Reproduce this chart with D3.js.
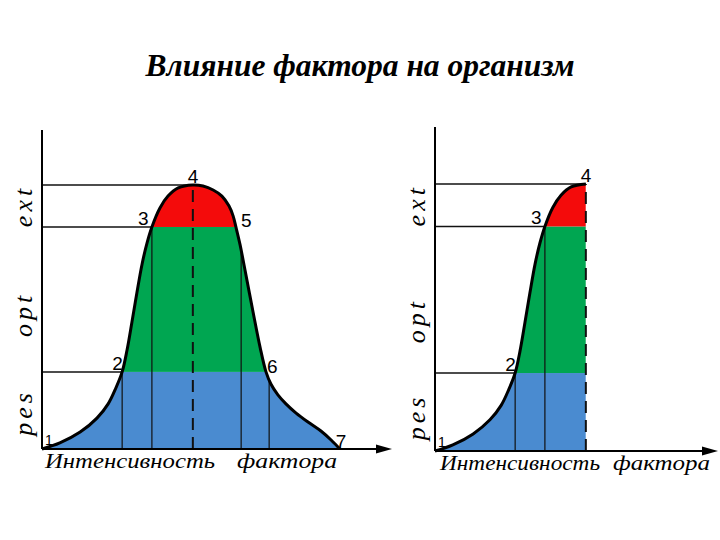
<!DOCTYPE html>
<html>
<head>
<meta charset="utf-8">
<script src="https://cdn.jsdelivr.net/npm/d3@7"></script>
<style>
  body { margin: 0; background: #fff; }
</style>
</head>
<body>
<div id="chart"></div>
<script>
// response curve, abstract units (x: factor intensity 0-100, y: response 0-100)
const curveX = [0, 5.1, 10.9, 15.7, 18.9, 21.1, 22.9, 24.3, 25.7, 27.1, 28.6, 30, 31.4, 33.7, 36, 38.9, 43.1,
  46, 48.9, 51.4, 53.4, 54.6, 55.4, 56.6, 58, 60.3, 62.3, 64, 65.4, 67.4, 69.7, 72.6, 76, 79.7, 82.6, 85.1]
const curveY = [0, 2.3, 6.4, 11.7, 17.1, 23.1, 29.2, 37.5, 48.1, 59.1, 70.1, 78, 84.1, 91.3, 95.8, 98.9, 100,
  99.6, 98.1, 95.8, 92.1, 88.3, 84.1, 77.3, 67.8, 51.9, 38.6, 29.2, 24.6, 20.5, 17.1, 13.6, 10.2, 6.8, 3.4, 0]

// numbered key points on the curve
const pointLabels = ['1', '2', '3', '4', '5', '6', '7']
const pointX = [0, 22.9, 31.4, 43.1, 55.4, 64, 85.1]
const pointY = [0, 29.2, 84.1, 100, 84.1, 29.2, 0]

// zones
const zoneNames = ['pes', 'opt', 'ext']
const zoneFrom = [0, 29.2, 84.1]
const zoneTo = [29.2, 84.1, 100]
const zoneColors = ['#4a8bd0', '#00a651', '#f40b0b']

// thin drop lines under the curve, dashed one at the peak
const dropX = [22.9, 31.4, 56.9, 64.9]
const peakX = 43.1

const title = 'Влияние фактора на организм'
const axisWords = ['Интенсивность', 'фактора']

let svg = d3.select('#chart')
  .append('svg')
  .attr('width', 720)
  .attr('height', 540)

svg.append('text')
  .attr('x', 360)
  .attr('y', 76)
  .attr('text-anchor', 'middle')
  .attr('font-family', 'Liberation Serif')
  .attr('font-style', 'italic')
  .attr('font-weight', 'bold')
  .attr('font-size', 31.5)
  .text(title)

let panels = [
  { id: 'l', left: 42, base: 449, top: 185, axisTop: 130, axisEnd: 392, cut: null,
    nums: 7, zoneShift: [2, 15, 0], words: [[45, 215], [237, 337]], wordY: 468 },
  { id: 'r', left: 435, base: 451, top: 184, axisTop: 127, axisEnd: 718, cut: peakX,
    nums: 4, zoneShift: [5, 21, 0], words: [[440, 600], [613, 710]], wordY: 470 }
]

// label nudges relative to each key point, in px
let numOffsets = [[3, -4], [-10, -2], [-14, -2], [-5, -2], [5, 0], [1, 1], [-4, -1]]

panels.forEach(function(p) {
  let x = d3.scaleLinear().domain([0, 100]).range([p.left, p.left + 350])
  let y = d3.scaleLinear().domain([0, 100]).range([p.base, p.top])

  let pts = curveX.map((v, i) => [v, curveY[i]])
  if (p.cut !== null) pts = pts.filter(d => d[0] <= p.cut)
  let xMax = d3.max(pts, d => d[0])

  let area = d3.area()
    .x(d => x(d[0]))
    .y0(y(0))
    .y1(d => y(d[1]))
    .curve(d3.curveCatmullRom.alpha(0.5))

  let line = d3.line()
    .x(d => x(d[0]))
    .y(d => y(d[1]))
    .curve(d3.curveCatmullRom.alpha(0.5))

  svg.append('clipPath')
    .attr('id', 'clip-' + p.id)
    .append('path')
    .attr('d', area(pts))

  let g = svg.append('g')

  // coloured zones, cut to the area under the curve
  g.append('g')
    .attr('clip-path', 'url(#clip-' + p.id + ')')
    .selectAll('rect')
    .data(zoneNames)
    .enter()
    .append('rect')
    .attr('x', x(0))
    .attr('width', x(xMax) - x(0))
    .attr('y', (d, i) => y(zoneTo[i]))
    .attr('height', (d, i) => y(zoneFrom[i]) - y(zoneTo[i]))
    .attr('fill', (d, i) => zoneColors[i])

  let drops = g.append('g').attr('clip-path', 'url(#clip-' + p.id + ')')
  drops.selectAll('line')
    .data(dropX.filter(d => d < xMax))
    .enter()
    .append('line')
    .attr('x1', d => x(d))
    .attr('x2', d => x(d))
    .attr('y1', y(0))
    .attr('y2', y(100))
    .attr('stroke', '#111')
    .attr('stroke-width', 1.2)

  g.append('line')
    .attr('x1', x(peakX))
    .attr('x2', x(peakX))
    .attr('y1', y(0))
    .attr('y2', y(100))
    .attr('stroke', '#111')
    .attr('stroke-width', 2)
    .attr('stroke-dasharray', '12,7')

  // level lines from the axis to the left branch of the curve
  g.selectAll('.level')
    .data([1, 2, 3])
    .enter()
    .append('line')
    .attr('class', 'level')
    .attr('x1', x(0))
    .attr('x2', i => x(pointX[i]))
    .attr('y1', i => y(pointY[i]))
    .attr('y2', i => y(pointY[i]))
    .attr('stroke', '#111')
    .attr('stroke-width', 1.5)

  g.append('path')
    .attr('d', line(pts))
    .attr('fill', 'none')
    .attr('stroke', '#000')
    .attr('stroke-width', 3)

  // axes
  g.append('line')
    .attr('x1', x(0)).attr('x2', x(0))
    .attr('y1', p.axisTop).attr('y2', y(0))
    .attr('stroke', '#000')
    .attr('stroke-width', 2)
  g.append('line')
    .attr('x1', x(0)).attr('x2', p.axisEnd - 6)
    .attr('y1', y(0)).attr('y2', y(0))
    .attr('stroke', '#000')
    .attr('stroke-width', 2)
  g.append('path')
    .attr('d', d3.line()([[p.axisEnd, y(0)], [p.axisEnd - 16, y(0) - 4.5], [p.axisEnd - 16, y(0) + 4.5]]) + 'Z')
    .attr('fill', '#000')

  // numbers at key points
  g.selectAll('.num')
    .data(pointLabels.slice(0, p.nums))
    .enter()
    .append('text')
    .attr('class', 'num')
    .attr('x', (d, i) => x(pointX[i]) + numOffsets[i][0])
    .attr('y', (d, i) => y(pointY[i]) + numOffsets[i][1])
    .attr('font-family', 'Liberation Sans')
    .attr('font-size', (d, i) => i === 0 ? 14 : 19)
    .text(d => d)

  // zone names along the y axis
  g.selectAll('.zone')
    .data(zoneNames)
    .enter()
    .append('text')
    .attr('class', 'zone')
    .attr('transform', (d, i) => {
      let cy = (y(zoneFrom[i]) + y(zoneTo[i])) / 2 + p.zoneShift[i]
      return 'translate(' + (x(0) - 10) + ',' + cy + ') rotate(-90)'
    })
    .attr('text-anchor', 'middle')
    .attr('font-family', 'Liberation Serif')
    .attr('font-style', 'italic')
    .attr('font-size', 26)
    .attr('letter-spacing', 4)
    .text(d => d)

  // axis caption
  g.selectAll('.word')
    .data(axisWords)
    .enter()
    .append('text')
    .attr('class', 'word')
    .attr('x', (d, i) => p.words[i][0])
    .attr('y', p.wordY)
    .attr('textLength', (d, i) => p.words[i][1] - p.words[i][0])
    .attr('lengthAdjust', 'spacingAndGlyphs')
    .attr('font-family', 'Liberation Serif')
    .attr('font-style', 'italic')
    .attr('font-size', 22)
    .text(d => d)
})
</script>
</body>
</html>
